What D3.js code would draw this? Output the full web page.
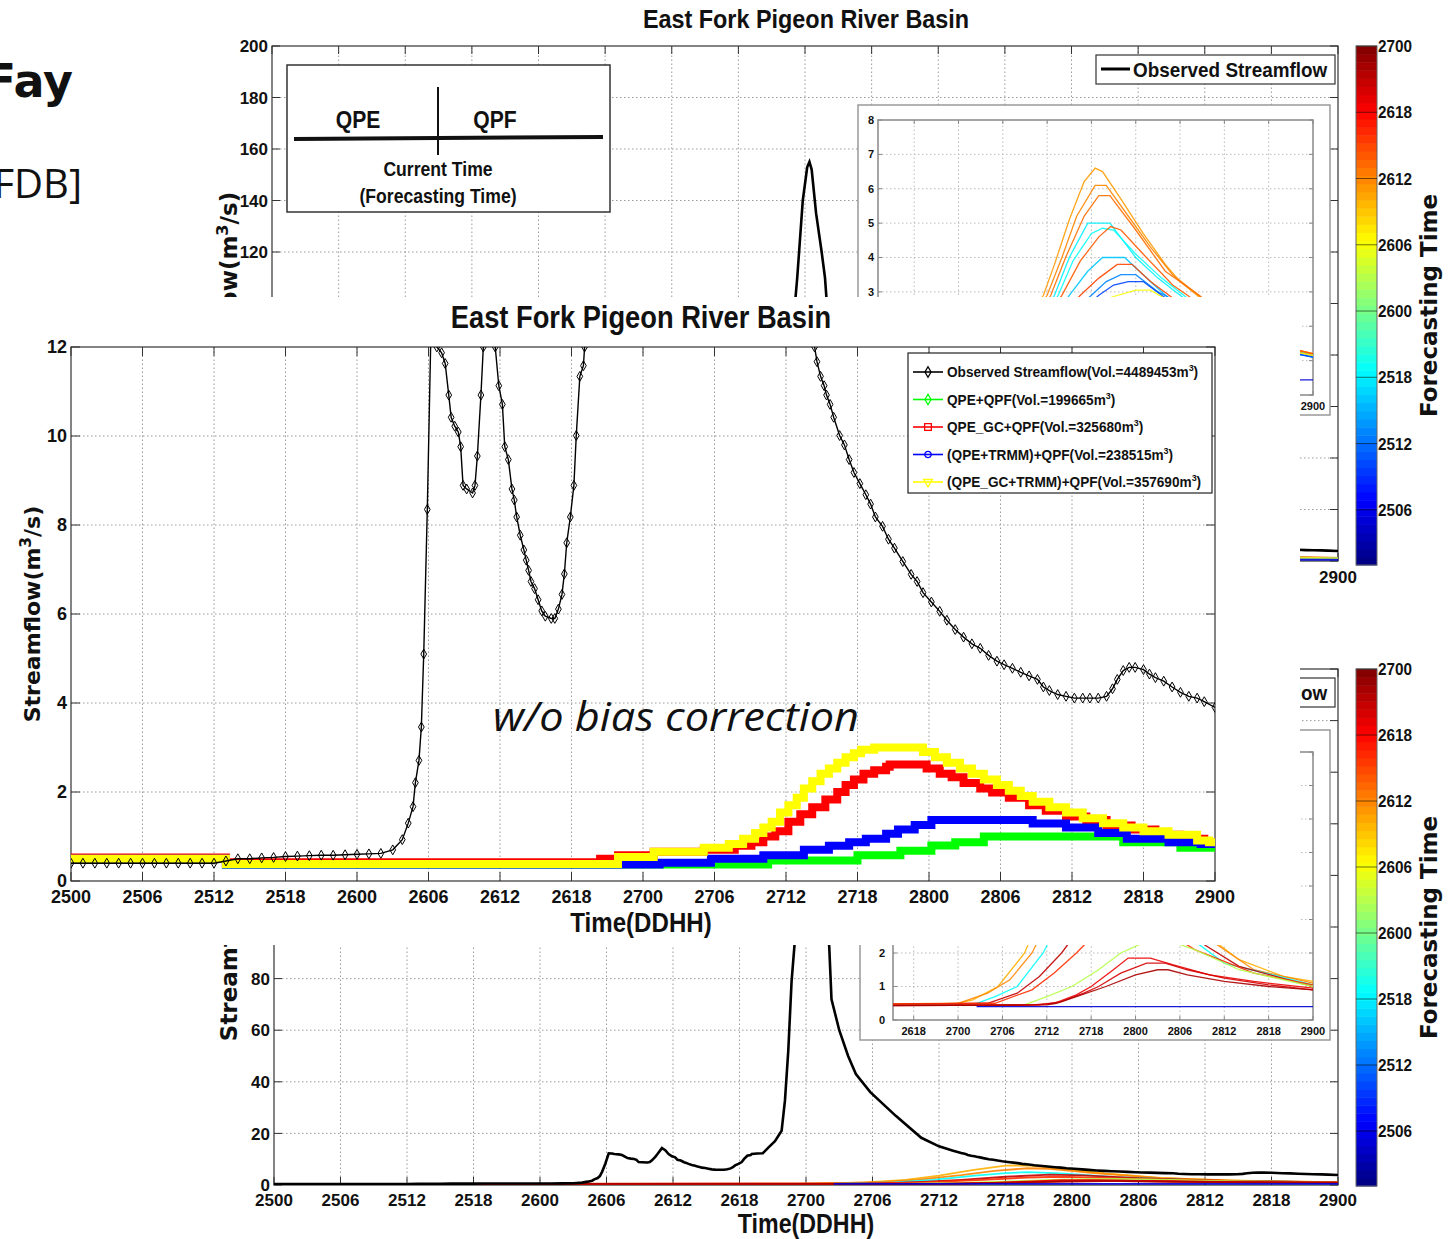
<!DOCTYPE html>
<html>
<head>
<meta charset="utf-8">
<script src="https://cdn.jsdelivr.net/npm/d3@7"></script>
<style>
body { margin: 0; background: #fff; }
svg { display: block; }
</style>
</head>
<body>
<svg id="chart" width="1455" height="1239"></svg>
<script>
// ---------------- data ----------------
// time is in hours counted from 2500 (day 25, 00h)
var xTickHours = [0, 6, 12, 18, 24, 30, 36, 42, 48, 54, 60, 66, 72, 78, 84, 90, 96];
var xTickLabels = ['2500', '2506', '2512', '2518', '2600', '2606', '2612', '2618', '2700',
                   '2706', '2712', '2718', '2800', '2806', '2812', '2818', '2900'];
var insetTickHours = [42, 48, 54, 60, 66, 72, 78, 84, 90, 96];
var insetTickLabels = ['2618', '2700', '2706', '2712', '2718', '2800', '2806', '2812', '2818', '2900'];
var mainYTicks = [0, 2, 4, 6, 8, 10, 12];
var bgYTicks = [0, 20, 40, 60, 80, 100, 120, 140, 160, 180, 200];
var insetYTicks = [0, 1, 2, 3, 4, 5, 6, 7, 8];
var cbTickHours = [6, 12, 18, 24, 30, 36, 42, 48];
var cbTickLabels = ['2506', '2512', '2518', '2600', '2606', '2612', '2618', '2700'];

// observed streamflow (m3/s)
var obsHours = [0, 1, 2, 3, 4, 5, 6, 7, 8, 9, 10, 11, 12, 13, 14, 15, 16, 17, 18, 19, 20, 21, 22, 23, 24, 25, 26, 27,
  27.8, 28.3, 28.7, 28.9, 29.2, 29.4, 29.6, 29.9, 30.2, 30.5, 30.7, 31.1, 31.4, 31.7, 31.9, 32.2, 32.5, 32.7, 32.9,
  33.2, 33.7, 33.9, 34.1, 34.4, 34.6, 35.0, 35.3, 35.6, 35.9, 36.2, 36.4, 36.7, 37.0, 37.2, 37.4, 37.7, 38.0, 38.2,
  38.4, 38.6, 38.9, 39.2, 39.5, 39.8, 40.3, 40.6, 40.9, 41.2, 41.4, 41.6, 41.9, 42.2, 42.4, 42.7, 43.0, 43.1, 43.6,
  44.1, 44.6, 45.2, 45.8, 46.1, 46.4, 46.7, 47.0, 47.3, 47.8, 48.2, 48.4, 48.6, 49.0, 49.5, 49.8, 50.1, 50.3, 51.0,
  51.8, 52.5, 53.8, 56.1, 58.4, 60.0, 61.2, 62.0, 62.4, 62.6, 62.9, 63.2, 63.4, 63.7, 64.0, 64.5, 64.9, 65.3, 65.7,
  66.2, 66.7, 67.1, 67.5, 68.1, 68.6, 69.1, 69.8, 70.5, 71.0, 71.5, 72.2, 72.9, 73.5, 74.2, 74.9, 75.6, 76.3, 77.0,
  77.7, 78.3, 79.0, 79.7, 80.4, 81.1, 81.6, 82.1, 82.8, 83.5, 84.2, 84.9, 85.5, 86.2, 86.9, 87.4, 87.8, 88.3, 88.8,
  89.3, 90.0, 90.5, 91.0, 91.7, 92.4, 93.1, 93.8, 94.5, 95.1, 96.0];
var obsFlow = [0.40, 0.40, 0.40, 0.40, 0.40, 0.40, 0.40, 0.40, 0.40, 0.40, 0.40, 0.40, 0.40, 0.45, 0.50, 0.50, 0.52,
  0.53, 0.55, 0.56, 0.57, 0.58, 0.58, 0.59, 0.60, 0.61, 0.62, 0.70,
  0.93, 1.30, 1.67, 2.21, 2.71, 3.46, 5.10, 8.35, 12.3, 12.2, 12.0, 11.87, 11.63, 10.92, 10.42, 10.22, 10.09, 9.76, 8.89,
  8.81, 8.72, 8.89, 9.55, 10.92, 12.0, 14.3, 13.5, 12.0, 11.13, 10.71, 9.76, 9.47, 8.81, 8.56, 8.18, 7.77, 7.44, 7.21,
  6.98, 6.73, 6.57, 6.32, 6.07, 5.95, 5.90, 5.90, 6.11, 6.44, 6.90, 7.60, 8.18, 8.89, 10.01, 11.34, 11.58, 12.0, 12.2,
  12.3, 14.5, 17, 21, 32.7, 52, 79, 95, 110, 140, 153, 155, 152, 135, 120, 110, 92, 72, 60,
  50, 43, 36, 26.8, 18.3, 15, 13.4, 12.4, 12.0, 11.67, 11.34, 11.13, 10.92, 10.71, 10.42, 10.01, 9.80, 9.47, 9.18,
  8.93, 8.68, 8.47, 8.18, 7.97, 7.68, 7.48, 7.18, 6.89, 6.73, 6.48, 6.27, 6.06, 5.86, 5.65, 5.48, 5.33, 5.23, 5.07,
  4.94, 4.86, 4.78, 4.69, 4.61, 4.53, 4.36, 4.28, 4.19, 4.15, 4.11, 4.11, 4.11, 4.11, 4.15, 4.32, 4.53, 4.73, 4.80,
  4.80, 4.75, 4.65, 4.57, 4.49, 4.36, 4.24, 4.15, 4.11, 4.03, 3.90];

// simulated streamflow, values hold from each hour until the next one
var greenHours = [0, 13, 58.5, 66.0, 69.6, 72.2, 74.2, 76.6, 88.3, 93.1, 96];
var greenFlow = [0.50, 0.37, 0.46, 0.58, 0.68, 0.80, 0.87, 1.00, 0.87, 0.75, 0.75];
var redHours = [0, 13, 44.4, 45.9, 48.9, 53.1, 55.7, 57.1, 58.1, 59.1, 60.2, 61.2, 62.2, 63.3, 64.3, 65.0, 65.7, 66.5,
  67.4, 68.4, 68.7, 71.8, 72.9, 73.9, 74.9, 76.3, 77.3, 78.7, 80.4, 81.8, 83.5, 85.2, 86.9, 89.0, 91.0, 93.1, 95.1, 96];
var redFlow = [0.53, 0.42, 0.50, 0.58, 0.66, 0.70, 0.79, 0.87, 1.00, 1.12, 1.33, 1.50, 1.66, 1.83, 2.00, 2.16, 2.28, 2.41,
  2.49, 2.57, 2.62, 2.53, 2.41, 2.33, 2.20, 2.08, 1.99, 1.87, 1.70, 1.58, 1.45, 1.37, 1.25, 1.16, 1.04, 0.95, 0.87, 0.87];
var blueHours = [0, 13, 49.4, 53.7, 58.1, 61.5, 63.6, 65.3, 66.7, 68.4, 69.4, 70.8, 72.2, 80.7, 83.5, 86.2, 88.6, 92.1, 94.8, 96];
var blueFlow = [0.50, 0.37, 0.41, 0.50, 0.58, 0.70, 0.79, 0.87, 0.95, 1.06, 1.16, 1.26, 1.37, 1.29, 1.20, 1.08, 0.95, 0.87, 0.83, 0.83];
var yellowHours = [0, 13, 45.9, 48.9, 53.1, 55.2, 56.4, 57.4, 58.1, 58.8, 59.5, 60.2, 60.9, 61.5, 62.2, 62.9, 63.6, 64.3,
  65.0, 65.7, 66.3, 67.4, 71.5, 72.5, 73.5, 74.6, 75.6, 76.6, 77.7, 78.7, 79.7, 80.7, 82.1, 83.5, 84.9, 86.6, 88.3, 90.0,
  92.1, 94.5, 95.5, 96];
var yellowFlow = [0.50, 0.38, 0.54, 0.66, 0.75, 0.83, 0.95, 1.08, 1.20, 1.33, 1.54, 1.70, 1.87, 2.08, 2.24, 2.41, 2.53, 2.66,
  2.78, 2.87, 2.95, 3.00, 2.90, 2.78, 2.66, 2.53, 2.41, 2.28, 2.16, 2.03, 1.91, 1.78, 1.66, 1.54, 1.41, 1.30, 1.20, 1.12,
  1.04, 0.91, 0.87, 0.87];

var legendNames = ['Observed Streamflow(Vol.=4489453m', 'QPE+QPF(Vol.=199665m', 'QPE_GC+QPF(Vol.=325680m',
                   '(QPE+TRMM)+QPF(Vol.=238515m', '(QPE_GC+TRMM)+QPF(Vol.=357690m'];
var legendColors = ['#000000', '#00ff00', '#ff0000', '#0000ff', '#ffff00'];

// forecast ensembles of the background figure: forecasting time (hour) and [hour, flow] points
var ensTopFt = [35, 36, 37, 18, 19, 38, 16, 39, 13, 10, 30, 5];
var ensTopFlow = [
  [[37,0.45],[46,0.5],[50,0.7],[53,1.2],[56,1.9],[58,2.4],[59.5,2.9],[61,3.8],[63,5.1],[65,6.2],[66.5,6.6],[67.5,6.5],[70,5.7],[73,4.7],[76,3.8],[78,3.3],[80.3,2.9],[84,2.2],[88,1.7],[92,1.4],[96,1.2]],
  [[37,0.45],[47,0.5],[51,0.7],[54,1.2],[57,1.9],[60,2.9],[62,4.0],[64,5.2],[66.5,6.1],[68,6.1],[71,5.2],[74,4.3],[77,3.5],[80.5,2.9],[84,2.2],[88,1.7],[92,1.4],[96,1.2]],
  [[37,0.45],[48,0.5],[52,0.8],[55,1.3],[58,2.1],[60.5,2.9],[62.5,4.0],[65,5.2],[67,5.8],[68.5,5.8],[72,4.8],[76,3.6],[80.6,2.9],[85,2.1],[90,1.5],[96,1.15]],
  [[37,0.45],[50,0.5],[54,0.9],[57,1.6],[59,2.2],[61,2.9],[63,4.0],[65.5,5.0],[68.5,5.0],[72,4.0],[75,3.4],[78,2.9],[83,2.1],[89,1.5],[96,1.15]],
  [[37,0.45],[50,0.5],[54,0.9],[57,1.5],[59.5,2.2],[61.5,2.9],[63.5,3.9],[66,4.7],[67.5,4.85],[69,4.8],[72,4.1],[75.5,3.4],[78.5,2.9],[83,2.1],[89,1.5],[96,1.15]],
  [[37,0.45],[50,0.55],[55,1.0],[59,2.0],[62,2.9],[64.5,3.9],[67,4.6],[68.6,4.9],[70,4.8],[73,4.1],[77,3.2],[79,2.9],[84,2.1],[90,1.5],[96,1.2]],
  [[37,0.45],[52,0.5],[56,0.9],[60,2.0],[63,2.9],[65.5,3.6],[67.5,4.0],[70.5,4.0],[73,3.5],[76,2.9],[82,2.0],[89,1.4],[96,1.1]],
  [[37,0.45],[52,0.55],[57,1.1],[61,2.1],[64.5,2.9],[67,3.4],[69.5,3.8],[71.5,3.8],[74,3.3],[76.5,2.9],[82,2.0],[89,1.45],[96,1.15]],
  [[37,0.45],[53,0.5],[58,1.0],[62,2.1],[66,2.9],[68,3.3],[70,3.5],[72,3.5],[75,3.0],[76,2.9],[82,2.0],[89,1.4],[96,1.1]],
  [[37,0.45],[54,0.5],[59,1.0],[63,2.1],[67,2.9],[69,3.2],[71,3.3],[73,3.3],[75.5,2.9],[82,2.0],[89,1.4],[96,1.1]],
  [[37,0.45],[55,0.5],[60,1.0],[64,2.1],[68,2.8],[72,3.05],[74,3.05],[76,2.8],[82,2.0],[89,1.45],[96,1.15]],
  [[37,0.44],[96,0.44]]
];
var ensBotFt = [34, 36, 19, 45, 40, 27, 43, 44, 46, 5];
var ensBotFlow = [
  [[0,0.4],[47,0.45],[50,0.6],[53.4,1.0],[57,2.0],[60,3.6],[63,5.8],[66,7.5],[68,7.6],[71,6.4],[75,4.5],[80,2.8],[86,1.8],[92,1.3],[96,1.15]],
  [[0,0.4],[48,0.5],[52,0.8],[55,1.2],[58,2.0],[62,3.8],[65,5.5],[68,6.5],[70,6.3],[74,4.6],[80,2.7],[88,1.5],[96,1.1]],
  [[0,0.4],[50,0.45],[53,0.7],[56,1.0],[59.5,2.0],[63,3.5],[66,4.6],[68,5.0],[71,4.5],[76,3.0],[84,1.7],[96,1.05]],
  [[0,0.4],[52,0.5],[56,0.8],[59,1.3],[62,2.0],[66,3.2],[70,4.0],[73,3.7],[78,2.7],[86,1.6],[96,1.0]],
  [[0,0.4],[53,0.5],[58,0.9],[61,1.4],[64,2.0],[68,2.9],[71,3.2],[75,2.8],[80,2.1],[88,1.4],[96,1.05]],
  [[0,0.4],[57,0.45],[60,0.7],[63.4,1.0],[67,1.5],[70,2.0],[73,2.3],[76,2.4],[80,2.1],[86,1.5],[96,1.0]],
  [[0,0.4],[58,0.45],[61,0.5],[64,0.75],[66,1.0],[69,1.5],[71,1.85],[74,1.85],[77,1.65],[82,1.35],[88,1.15],[96,0.95]],
  [[0,0.4],[59,0.45],[62,0.55],[65,0.8],[67,1.0],[70,1.4],[73.5,1.7],[76,1.7],[79,1.5],[84,1.25],[90,1.05],[96,0.9]],
  [[0,0.4],[60,0.45],[61.3,0.5],[64,0.7],[68,1.0],[72,1.35],[75,1.5],[76.4,1.5],[79,1.35],[84,1.15],[90,1.0],[96,0.9]],
  [[50.5,0.4],[96,0.4]]
];

// ---------------- helpers ----------------
var SANS = "'Liberation Sans',Arial,sans-serif";
var WIDE = "'DejaVu Sans','Liberation Sans',sans-serif";
var svg = d3.select('#chart');

// the foreground chart is pasted over this part of the background figure
function covered(x, y) { return x < 1300 && y > 297 && y < 945; }

function clamp01(v) { return Math.max(0, Math.min(1, v)); }
// matlab "jet" colormap
function jet(t) {
  return d3.rgb(255 * clamp01(1.5 - Math.abs(4 * t - 3)),
                255 * clamp01(1.5 - Math.abs(4 * t - 2)),
                255 * clamp01(1.5 - Math.abs(4 * t - 1))).toString();
}
function ftColor(h) { return jet((h - 1) / 47); }

// bold text squeezed horizontally (the figure used a narrow face)
function label(g, x, y, str, size, k, anchor) {
  return g.append('text').attr('transform', 'translate(' + x + ',' + y + ') scale(' + k + ',1)')
    .attr('text-anchor', anchor || 'start').attr('font-family', SANS).attr('font-weight', 'bold')
    .attr('font-size', size).attr('fill', '#111').text(str);
}

var clipCount = 0;
function clipTo(g, x, y) {
  var id = 'clip' + (clipCount++);
  g.append('clipPath').attr('id', id).append('rect')
    .attr('x', x.range()[0]).attr('y', y.range()[1])
    .attr('width', x.range()[1] - x.range()[0]).attr('height', y.range()[0] - y.range()[1]);
  return g.append('g').attr('clip-path', 'url(#' + id + ')');
}

// matlab style axes: dotted grid, inward ticks on all sides, box
function frame(g, x, y, o) {
  var X0 = x.range()[0], X1 = x.range()[1], Y0 = y.range()[0], Y1 = y.range()[1];
  g.append('rect').attr('x', X0).attr('y', Y1).attr('width', X1 - X0).attr('height', Y0 - Y1).attr('fill', '#fff');
  var grid = g.append('g').attr('stroke', o.grid || '#9a9a9a').attr('stroke-width', 1)
    .attr('stroke-dasharray', o.dash || '1.5,2.5');
  grid.selectAll('.gx').data(o.xt.filter(function(t) { return x(t) > X0 + 1 && x(t) < X1 - 1; }))
    .enter().append('line').attr('x1', function(d) { return x(d); }).attr('x2', function(d) { return x(d); })
    .attr('y1', Y0).attr('y2', Y1);
  grid.selectAll('.gy').data(o.yt.filter(function(t) { return y(t) < Y0 - 1 && y(t) > Y1 + 1; }))
    .enter().append('line').attr('y1', function(d) { return y(d); }).attr('y2', function(d) { return y(d); })
    .attr('x1', X0).attr('x2', X1);
  var tk = g.append('g').attr('stroke', o.axis || '#333').attr('stroke-width', 1);
  o.xt.forEach(function(t) {
    tk.append('line').attr('x1', x(t)).attr('x2', x(t)).attr('y1', Y0).attr('y2', Y0 - o.tick);
    tk.append('line').attr('x1', x(t)).attr('x2', x(t)).attr('y1', Y1).attr('y2', Y1 + o.tick);
  });
  o.yt.forEach(function(t) {
    if (y(t) < Y1 - 0.5 || y(t) > Y0 + 0.5) return;
    tk.append('line').attr('y1', y(t)).attr('y2', y(t)).attr('x1', X0).attr('x2', X0 + o.tick);
    tk.append('line').attr('y1', y(t)).attr('y2', y(t)).attr('x1', X1).attr('x2', X1 - o.tick);
  });
  g.append('rect').attr('x', X0).attr('y', Y1).attr('width', X1 - X0).attr('height', Y0 - Y1)
    .attr('fill', 'none').attr('stroke', o.axis || '#333').attr('stroke-width', o.boxWidth || 1.2);
  var keep = function(px, py) { return !(o.bg && covered(px, py)); };
  g.append('g').selectAll('text')
    .data(o.xt.map(function(t, i) { return { v: t, s: o.xl[i] }; })
      .filter(function(d) { return keep(x(d.v), Y0 + o.xlOff - 5); }))
    .enter().append('text')
    .attr('x', function(d) { return x(d.v); }).attr('y', Y0 + o.xlOff)
    .attr('text-anchor', 'middle').attr('font-family', SANS).attr('font-weight', 'bold')
    .attr('font-size', o.fs).attr('fill', '#111')
    .text(function(d) { return d.s; });
  g.append('g').selectAll('text')
    .data(o.yt.filter(function(t) { return y(t) >= Y1 - 0.5 && y(t) <= Y0 + 0.5 && keep(X0 - o.ylOff, y(t) - 3); }))
    .enter().append('text')
    .attr('x', X0 - o.ylOff).attr('y', function(d) { return y(d); }).attr('dy', '0.36em')
    .attr('text-anchor', 'end').attr('font-family', SANS).attr('font-weight', 'bold')
    .attr('font-size', o.fs).attr('fill', '#111')
    .text(function(d) { return d; });
}

function pairsLine(x, y, curve) {
  return d3.line().x(function(d) { return x(d[0]); }).y(function(d) { return y(d[1]); }).curve(curve || d3.curveLinear);
}

function drawEnsemble(g, x, y, ft, flows, w) {
  var line = pairsLine(x, y);
  flows.forEach(function(pts, i) {
    g.append('path').attr('d', line(pts)).attr('fill', 'none')
      .attr('stroke', ftColor(ft[i])).attr('stroke-width', w).attr('opacity', 0.9);
  });
}

function yLabel(g, cx, cy, size) {
  var t = g.append('text').attr('transform', 'translate(' + cx + ',' + cy + ') rotate(-90)')
    .attr('text-anchor', 'middle').attr('font-family', WIDE).attr('font-weight', 'bold')
    .attr('font-size', size).attr('fill', '#111');
  t.append('tspan').text('Streamflow(m');
  t.append('tspan').attr('dy', -size * 0.4).attr('font-size', size * 0.7).text('3');
  t.append('tspan').attr('dy', size * 0.4).text('/s)');
}

function colorbar(g, y0, y1) {
  var cy = d3.scaleLinear().domain([1, 48]).range([y1, y0]);
  var n = 64, step = 47 / n;
  var levels = d3.range(n).map(function(i) { return 1 + i * step; });
  g.selectAll('.lev').data(levels).enter().append('rect')
    .attr('x', 1356).attr('width', 21)
    .attr('y', function(d) { return cy(d + step); })
    .attr('height', function(d) { return cy(d) - cy(d + step) + 0.5; })
    .attr('fill', function(d) { return ftColor(d + step / 2); });
  g.append('rect').attr('x', 1356).attr('y', y0).attr('width', 21).attr('height', y1 - y0)
    .attr('fill', 'none').attr('stroke', '#666').attr('stroke-width', 1);
  g.selectAll('.cbt').data(cbTickHours).enter().append('line')
    .attr('x1', 1356).attr('x2', 1377).attr('y1', function(d) { return cy(d); }).attr('y2', function(d) { return cy(d); })
    .attr('stroke', 'rgba(0,0,0,0.55)').attr('stroke-width', 1);
  g.selectAll('.cbl').data(cbTickHours).enter().append('text')
    .attr('transform', function(d) { return 'translate(1378,' + cy(d) + ') scale(0.9,1)'; }).attr('dy', '0.36em')
    .attr('font-family', SANS).attr('font-weight', 'bold').attr('font-size', 17).attr('fill', '#111')
    .text(function(d, i) { return cbTickLabels[i]; });
  g.append('text').attr('transform', 'translate(1437,' + ((y0 + y1) / 2) + ') rotate(-90)')
    .attr('text-anchor', 'middle').attr('font-family', WIDE).attr('font-weight', 'bold')
    .attr('font-size', 23).attr('fill', '#111').text('Forecasting Time');
}

function bgLegend(g, y0) {
  g.append('rect').attr('x', 1096).attr('y', y0).attr('width', 239).attr('height', 29)
    .attr('fill', '#fff').attr('stroke', '#333').attr('stroke-width', 1.2);
  g.append('line').attr('x1', 1101).attr('x2', 1130).attr('y1', y0 + 14).attr('y2', y0 + 14)
    .attr('stroke', '#000').attr('stroke-width', 3);
  label(g, 1133, y0 + 22, 'Observed Streamflow', 21, 0.9);
}

var obsPairs = obsHours.map(function(h, i) { return [h, obsFlow[i]]; });

// ---------------- slide text on the left ----------------
svg.append('text').attr('x', 73).attr('y', 97).attr('text-anchor', 'end')
  .attr('font-family', "'DejaVu Sans',sans-serif").attr('font-weight', 'bold').attr('font-size', 46)
  .attr('fill', '#111').text('Fay');
svg.append('text').attr('x', 82).attr('y', 198).attr('text-anchor', 'end')
  .attr('font-family', "'Open Sans','Liberation Sans',sans-serif").attr('font-size', 40)
  .attr('fill', '#111').text('FDB]');

// ---------------- background figure, upper panel ----------------
var tx = d3.scaleLinear().domain([0, 96]).range([272, 1338]);
var ty = d3.scaleLinear().domain([0, 200]).range([561, 46]);
var upper = svg.append('g');
label(upper, 806, 28, 'East Fork Pigeon River Basin', 26, 0.9, 'middle');
frame(upper, tx, ty, { xt: xTickHours, xl: xTickLabels, yt: bgYTicks, tick: 8, fs: 17, xlOff: 22, ylOff: 4, bg: true });
var upperPlot = clipTo(upper, tx, ty);
drawEnsemble(upperPlot, tx, ty, ensTopFt, ensTopFlow, 1.6);
upperPlot.append('path').attr('d', pairsLine(tx, ty)(obsPairs)).attr('fill', 'none')
  .attr('stroke', '#000').attr('stroke-width', 2.6);
yLabel(upper, 237, 305, 23);

// QPE / QPF sketch box
var note = upper.append('g');
note.append('rect').attr('x', 287).attr('y', 65).attr('width', 323).attr('height', 147)
  .attr('fill', '#fff').attr('stroke', '#333').attr('stroke-width', 1.5);
note.append('line').attr('x1', 294).attr('y1', 139).attr('x2', 603).attr('y2', 137)
  .attr('stroke', '#111').attr('stroke-width', 4);
note.append('line').attr('x1', 438).attr('y1', 87).attr('x2', 438).attr('y2', 155)
  .attr('stroke', '#111').attr('stroke-width', 2);
label(note, 358, 128, 'QPE', 24, 0.88, 'middle');
label(note, 495, 128, 'QPF', 24, 0.88, 'middle');
label(note, 438, 176, 'Current Time', 20, 0.88, 'middle');
label(note, 438, 203, '(Forecasting Time)', 20, 0.88, 'middle');
bgLegend(upper, 55);

// upper inset
upper.append('rect').attr('x', 858).attr('y', 105).attr('width', 472).attr('height', 310)
  .attr('fill', '#fff').attr('stroke', '#999').attr('stroke-width', 1.5);
var tix = d3.scaleLinear().domain([37.1, 96]).range([878, 1313]);
var tiy = d3.scaleLinear().domain([0, 8]).range([395, 120]);
frame(upper, tix, tiy, { xt: insetTickHours, xl: insetTickLabels, yt: insetYTicks, tick: 4, fs: 11,
  xlOff: 15, ylOff: 4, axis: '#888', grid: '#bbb', boxWidth: 1.5, bg: true });
drawEnsemble(clipTo(upper, tix, tiy), tix, tiy, ensTopFt, ensTopFlow, 1.3);
colorbar(upper, 46, 565);

// ---------------- background figure, lower panel ----------------
var bx = d3.scaleLinear().domain([0, 96]).range([274, 1338]);
var by = d3.scaleLinear().domain([0, 200]).range([1185, 669]);
var lower = svg.append('g');
frame(lower, bx, by, { xt: xTickHours, xl: xTickLabels, yt: bgYTicks, tick: 8, fs: 17, xlOff: 21, ylOff: 4, bg: true });
var lowerPlot = clipTo(lower, bx, by);
drawEnsemble(lowerPlot, bx, by, ensBotFt, ensBotFlow, 1.8);
lowerPlot.append('path').attr('d', pairsLine(bx, by)(obsPairs)).attr('fill', 'none')
  .attr('stroke', '#000').attr('stroke-width', 2.6);
yLabel(lower, 237, 928, 23);
label(lower, 806, 1233, 'Time(DDHH)', 27, 0.86, 'middle');
bgLegend(lower, 678);

// lower inset
lower.append('rect').attr('x', 860).attr('y', 730).attr('width', 470).attr('height', 310)
  .attr('fill', '#fff').attr('stroke', '#999').attr('stroke-width', 1.5);
var bix = d3.scaleLinear().domain([39.2, 96]).range([893, 1313]);
var biy = d3.scaleLinear().domain([0, 8]).range([1020, 752]);
frame(lower, bix, biy, { xt: insetTickHours, xl: insetTickLabels, yt: insetYTicks, tick: 4, fs: 11,
  xlOff: 15, ylOff: 8, axis: '#888', grid: '#bbb', boxWidth: 1.5, bg: true });
drawEnsemble(clipTo(lower, bix, biy), bix, biy, ensBotFt, ensBotFlow, 1.3);
colorbar(lower, 669, 1186);

// ---------------- foreground chart ----------------
svg.append('rect').attr('x', 0).attr('y', 297).attr('width', 1300).attr('height', 648).attr('fill', '#fff');
var mx = d3.scaleLinear().domain([0, 96]).range([71, 1215]);
var my = d3.scaleLinear().domain([0, 12]).range([881, 347]);
var fg = svg.append('g');
label(fg, 641, 328, 'East Fork Pigeon River Basin', 31, 0.88, 'middle');
frame(fg, mx, my, { xt: xTickHours, xl: xTickLabels, yt: mainYTicks, tick: 9, fs: 18, xlOff: 22, ylOff: 4 });
label(fg, 641, 932, 'Time(DDHH)', 28, 0.86, 'middle');
yLabel(fg, 40, 614, 22);

var plot = clipTo(fg, mx, my);
var stepLine = pairsLine(mx, my, d3.curveStepAfter);
var sims = [
  { h: greenHours, q: greenFlow, c: legendColors[1] },
  { h: redHours, q: redFlow, c: legendColors[2] },
  { h: blueHours, q: blueFlow, c: legendColors[3] },
  { h: yellowHours, q: yellowFlow, c: legendColors[4] }
];
sims.forEach(function(s) {
  var pts = s.h.map(function(h, i) { return [h, s.q[i]]; });
  plot.append('path').attr('d', stepLine(pts)).attr('fill', 'none')
    .attr('stroke', s.c).attr('stroke-width', 8).attr('stroke-linejoin', 'miter');
});
plot.append('path').attr('d', pairsLine(mx, my)(obsPairs)).attr('fill', 'none')
  .attr('stroke', '#000').attr('stroke-width', 1.4);
plot.selectAll('.obs').data(obsPairs.filter(function(d) { return d[1] <= 12.3; })).enter().append('path')
  .attr('transform', function(d) { return 'translate(' + mx(d[0]) + ',' + my(d[1]) + ')'; })
  .attr('d', d3.symbol().type(d3.symbolDiamond).size(28))
  .attr('fill', 'none').attr('stroke', '#000').attr('stroke-width', 1);

fg.append('text').attr('x', 493).attr('y', 731).attr('font-family', "'Open Sans','Noto Sans',sans-serif")
  .attr('font-style', 'italic').attr('font-size', 40).attr('fill', '#111')
  .attr('textLength', 366).attr('lengthAdjust', 'spacingAndGlyphs').text('w/o bias correction');

// legend
var lg = fg.append('g');
lg.append('rect').attr('x', 908).attr('y', 353).attr('width', 304).attr('height', 140)
  .attr('fill', '#fff').attr('stroke', '#222').attr('stroke-width', 1.2);
var markers = [d3.symbolDiamond, d3.symbolDiamond, d3.symbolSquare, d3.symbolCircle, d3.symbolTriangle];
legendNames.forEach(function(name, i) {
  var yy = 372 + i * 27.5;
  lg.append('line').attr('x1', 913).attr('x2', 943).attr('y1', yy).attr('y2', yy)
    .attr('stroke', legendColors[i]).attr('stroke-width', 1.6);
  lg.append('path').attr('d', d3.symbol().type(markers[i]).size(i === 2 ? 45 : 32)())
    .attr('transform', 'translate(928,' + yy + ')' + (i === 4 ? ' rotate(180)' : ''))
    .attr('fill', 'none').attr('stroke', legendColors[i]).attr('stroke-width', 1.3);
  var t = label(lg, 947, yy + 5, '', 14.5, 0.94);
  t.append('tspan').text(name);
  t.append('tspan').attr('dy', -6).attr('font-size', 9.5).text('3');
  t.append('tspan').attr('dy', 6).text(')');
});
</script>
</body>
</html>
